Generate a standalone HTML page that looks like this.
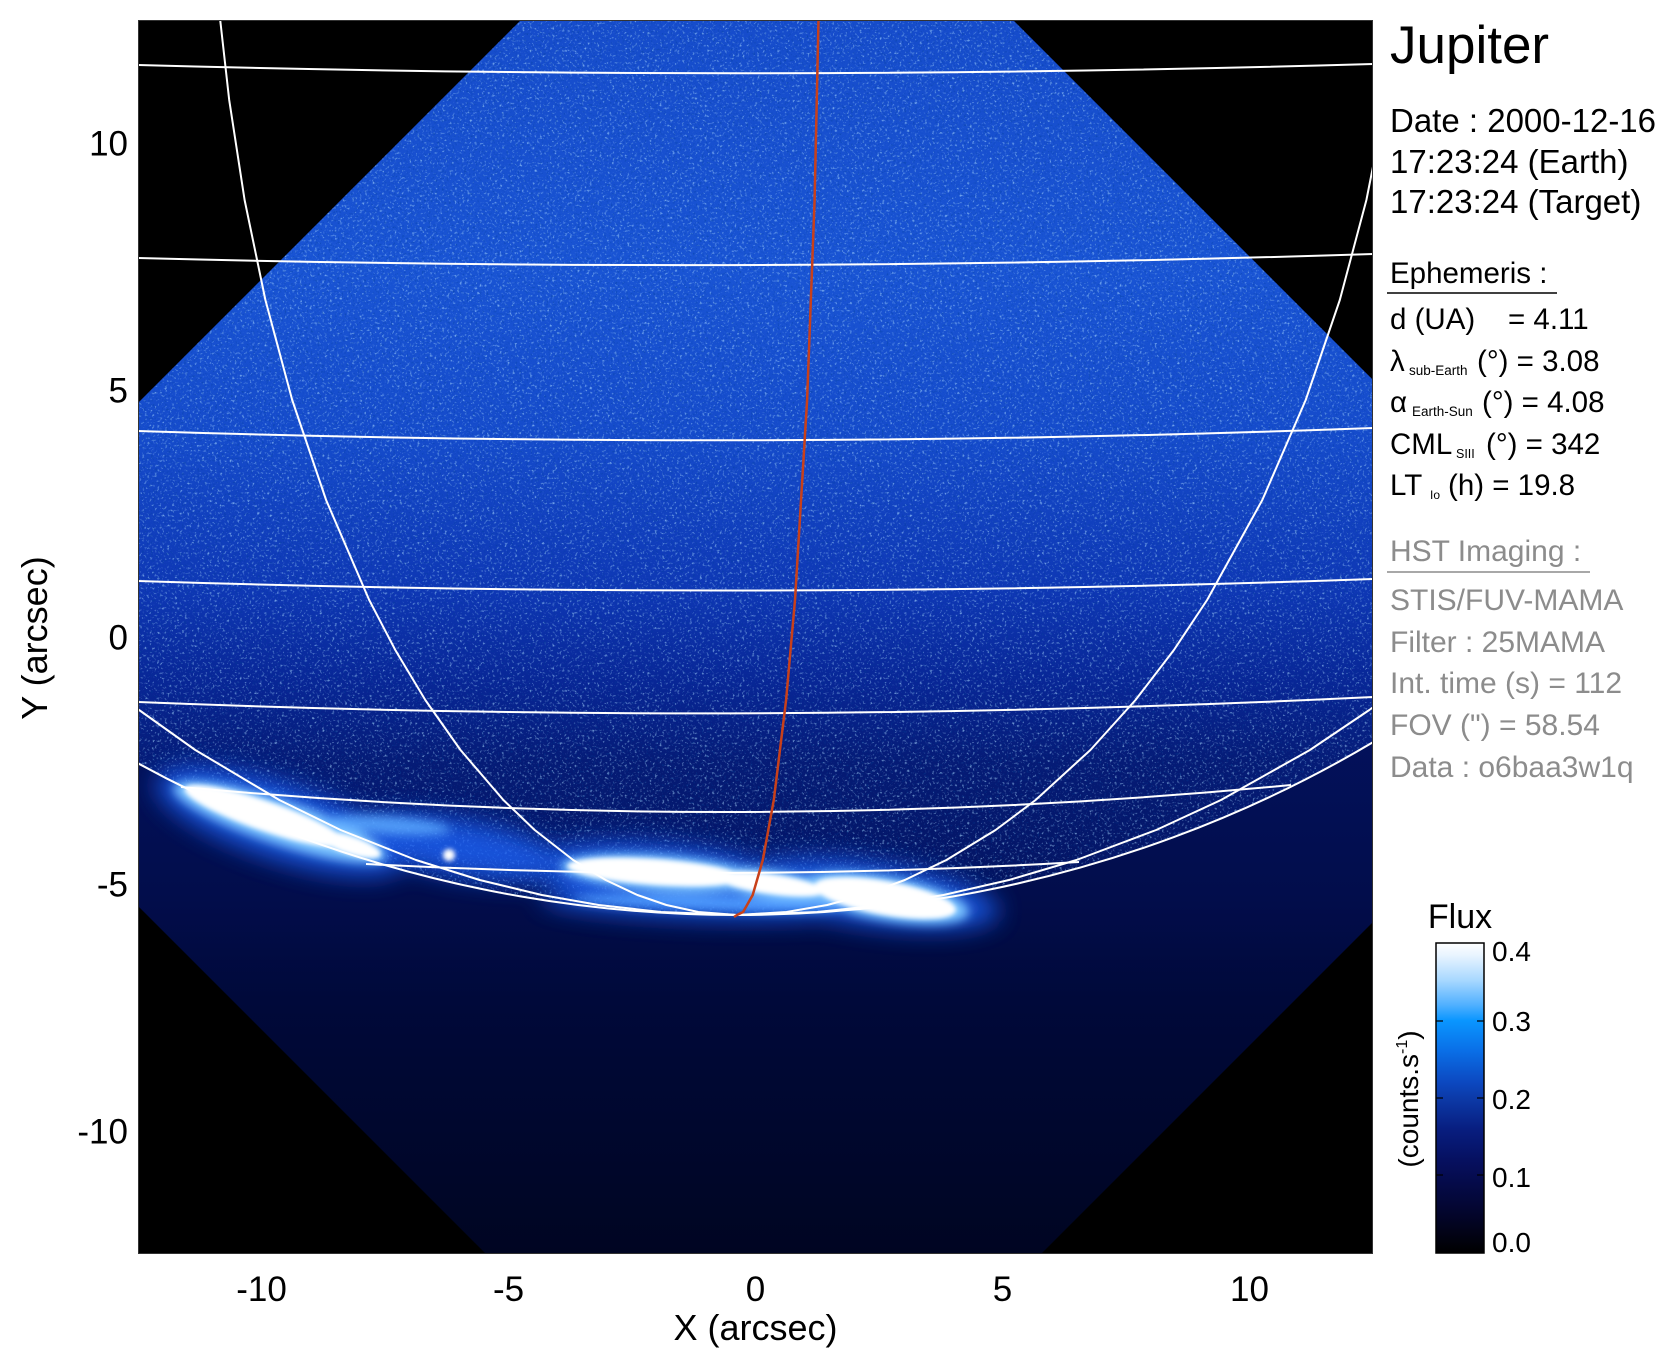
<!DOCTYPE html>
<html>
<head>
<meta charset="utf-8">
<style>
html,body{margin:0;padding:0;background:#fff;}
svg{display:block;}
text{font-family:"Liberation Sans",Arial,sans-serif;}
</style>
</head>
<body>
<svg width="1676" height="1367" viewBox="0 0 1676 1367" xmlns="http://www.w3.org/2000/svg">
<defs>
  <clipPath id="plot"><rect x="138" y="20" width="1235" height="1234"/></clipPath>
  <clipPath id="diam"><polygon points="767,-226 1644,651 763.5,1531.5 -113.5,654.5"/></clipPath>
  <clipPath id="disk"><ellipse cx="737" cy="-193" rx="1186" ry="1108"/></clipPath>
  <linearGradient id="gdisk" x1="0" y1="20" x2="0" y2="915" gradientUnits="userSpaceOnUse">
    <stop offset="0" stop-color="rgb(22,76,203)"/>
    <stop offset="0.28" stop-color="rgb(25,84,212)"/>
    <stop offset="0.47" stop-color="rgb(21,75,203)"/>
    <stop offset="0.64" stop-color="rgb(14,55,180)"/>
    <stop offset="0.74" stop-color="rgb(8,38,150)"/>
    <stop offset="0.83" stop-color="rgb(5,27,118)"/>
    <stop offset="0.93" stop-color="rgb(4,22,104)"/>
    <stop offset="1" stop-color="rgb(2,15,82)"/>
  </linearGradient>
  <linearGradient id="gsky" x1="0" y1="700" x2="0" y2="1254" gradientUnits="userSpaceOnUse">
    <stop offset="0" stop-color="rgb(3,18,95)"/>
    <stop offset="0.36" stop-color="rgb(2,13,75)"/>
    <stop offset="0.54" stop-color="rgb(0,9,58)"/>
    <stop offset="1" stop-color="rgb(0,5,34)"/>
  </linearGradient>
  <linearGradient id="gcb" x1="0" y1="943" x2="0" y2="1253" gradientUnits="userSpaceOnUse">
    <stop offset="0" stop-color="#ffffff"/>
    <stop offset="0.04" stop-color="#e8f4ff"/>
    <stop offset="0.12" stop-color="#a8d8ff"/>
    <stop offset="0.2" stop-color="#50b0ff"/>
    <stop offset="0.25" stop-color="#0a96ff"/>
    <stop offset="0.35" stop-color="#0a6ee6"/>
    <stop offset="0.45" stop-color="#0c48c0"/>
    <stop offset="0.5" stop-color="#0c3aa8"/>
    <stop offset="0.6" stop-color="#081e80"/>
    <stop offset="0.7" stop-color="#061060"/>
    <stop offset="0.78" stop-color="#050a48"/>
    <stop offset="0.88" stop-color="#03052a"/>
    <stop offset="1" stop-color="#000000"/>
  </linearGradient>
  <filter id="nzl" x="0" y="0" width="1" height="1">
    <feTurbulence type="fractalNoise" baseFrequency="0.4" numOctaves="2" seed="7"/>
    <feColorMatrix type="matrix" values="0 0 0 0 0.4  0 0 0 0 0.7  0 0 0 0 1  4 0 0 0 -2.3"/>
  </filter>
  <filter id="nzd" x="0" y="0" width="1" height="1">
    <feTurbulence type="fractalNoise" baseFrequency="0.45" numOctaves="2" seed="19"/>
    <feColorMatrix type="matrix" values="0 0 0 0 0  0 0 0 0 0.05  0 0 0 0 0.3  -4 0 0 0 1.7"/>
  </filter>
  <filter id="b12" x="-50%" y="-50%" width="200%" height="200%"><feGaussianBlur stdDeviation="12"/></filter>
  <filter id="b5" x="-50%" y="-50%" width="200%" height="200%"><feGaussianBlur stdDeviation="5"/></filter>
  <filter id="b2" x="-50%" y="-50%" width="200%" height="200%"><feGaussianBlur stdDeviation="2.5"/></filter>
</defs>

<rect x="0" y="0" width="1676" height="1367" fill="#ffffff"/>

<!-- Image area -->
<g clip-path="url(#plot)">
  <rect x="138" y="20" width="1235" height="1234" fill="#000"/>
  <g clip-path="url(#diam)">
    <rect x="138" y="20" width="1235" height="1234" fill="url(#gsky)"/>
    <ellipse cx="737" cy="-193" rx="1186" ry="1108" fill="url(#gdisk)"/>
    <g clip-path="url(#disk)">
      <rect x="138" y="20" width="1235" height="900" filter="url(#nzl)" opacity="0.6"/>
      <rect x="138" y="20" width="1235" height="900" filter="url(#nzd)" opacity="0.4"/>
    </g>
    <!-- aurora glow -->
    <g fill="#1e62f5" opacity="0.8" filter="url(#b12)">
      <ellipse cx="280" cy="822" rx="130" ry="38" transform="rotate(18.3 280 822)"/>
      <ellipse cx="460" cy="848" rx="110" ry="28" transform="rotate(10 460 848)"/>
      <ellipse cx="660" cy="874" rx="130" ry="30" transform="rotate(5 660 874)"/>
      <ellipse cx="870" cy="894" rx="130" ry="32" transform="rotate(8 870 894)"/>
      <ellipse cx="700" cy="903" rx="160" ry="16" transform="rotate(2 700 903)"/>
    </g>
    <g filter="url(#b5)">
      <ellipse cx="280" cy="822" rx="112" ry="22" fill="#7cc4ff" transform="rotate(18.3 280 822)"/>
      <ellipse cx="386" cy="825" rx="65" ry="9" fill="#5aa8ff" opacity="0.85" transform="rotate(4 386 825)"/>
      <ellipse cx="660" cy="873" rx="100" ry="18" fill="#7cc4ff" transform="rotate(4 660 873)"/>
      <ellipse cx="770" cy="884" rx="70" ry="14" fill="#7cc4ff" transform="rotate(8 770 884)"/>
      <ellipse cx="885" cy="898" rx="85" ry="22" fill="#7cc4ff" transform="rotate(10 885 898)"/>
      <ellipse cx="713" cy="903" rx="140" ry="7" fill="#4f9cff" transform="rotate(2 713 903)"/>
    </g>
    <g fill="#ffffff" filter="url(#b2)">
      <ellipse cx="265" cy="816" rx="85" ry="15" transform="rotate(19 265 816)"/>
      <ellipse cx="350" cy="845" rx="32" ry="9" transform="rotate(18 350 845)"/>
      <circle cx="449" cy="855" r="6"/>
      <ellipse cx="655" cy="872" rx="88" ry="13" transform="rotate(4 655 872)"/>
      <ellipse cx="770" cy="884" rx="55" ry="10" transform="rotate(8 770 884)"/>
      <ellipse cx="885" cy="898" rx="72" ry="17" transform="rotate(10 885 898)"/>
    </g>
  </g>

  <!-- grid lines -->
  <g fill="none" stroke="#ffffff" stroke-width="2">
    <path d="M138 65 Q755 82 1373 64"/>
    <path d="M138 258 Q755 274 1373 254"/>
    <path d="M138 431 Q755 451 1373 428"/>
    <path d="M138 581 Q755 601 1373 579"/>
    <path d="M138 702 Q755 727 1373 697"/>
    <path d="M181 787 Q736 838 1291 785"/>
    <path d="M366 864 Q722 883 1079 862"/>
    <ellipse cx="737" cy="-193" rx="1186" ry="1108"/>
    <polyline points="220.2,20 229.2,100 244.6,200 265.4,300 292.2,400 326.1,500 369.2,600 395.3,650 425.3,700 460.5,750 503.4,800 534.7,830 573.2,860 605.7,880 637.4,895 666.4,905 698.3,912 737,915" stroke-linejoin="round"/>
    <polyline points="1397.6,20 1386.2,100 1366.4,200 1339.8,300 1305.7,400 1262.3,500 1207.1,600 1173.9,650 1135.5,700 1090.4,750 1035.6,800 995.6,830 946.4,860 904.8,880 864.3,895 827.2,905 786.5,912 737,915" stroke-linejoin="round"/>
    <polyline points="126.2,700 139.1,710 195.3,750 279.3,800 340.6,830 416,860 479.7,880 541.9,895 598.7,905 661.1,912 737,915" stroke-linejoin="round"/>
    <polyline points="1382.9,700 1369.3,710 1309.9,750 1221,800 1156.2,830 1076.5,860 1009,880 943.4,895 883.3,905 817.2,912 737,915" stroke-linejoin="round"/>
  </g>
  <polyline points="818.5,20 814.6,200 807.1,400 795,600 786.1,700 773.8,800 762.8,860 752.7,895 743.1,912 737,915 734,917" fill="none" stroke="#c8401a" stroke-width="2.5" stroke-linejoin="round"/>
  <rect x="138.5" y="20.5" width="1234" height="1233" fill="none" stroke="#333" stroke-width="1"/>
</g>

<!-- Axis labels -->
<g font-size="35" fill="#000">
  <text x="128" y="155.5" text-anchor="end">10</text>
  <text x="128" y="402.5" text-anchor="end">5</text>
  <text x="128" y="649.5" text-anchor="end">0</text>
  <text x="128" y="896.5" text-anchor="end">-5</text>
  <text x="128" y="1143.5" text-anchor="end">-10</text>
  <text x="261.5" y="1301" text-anchor="middle">-10</text>
  <text x="508.5" y="1301" text-anchor="middle">-5</text>
  <text x="755.5" y="1301" text-anchor="middle">0</text>
  <text x="1002.5" y="1301" text-anchor="middle">5</text>
  <text x="1249.5" y="1301" text-anchor="middle">10</text>
</g>
<text x="755.5" y="1340" font-size="36" text-anchor="middle">X (arcsec)</text>
<text x="0" y="0" font-size="36" text-anchor="middle" transform="translate(47 638) rotate(-90)">Y (arcsec)</text>

<!-- Right panel text -->
<text x="1390" y="63" font-size="53">Jupiter</text>
<g font-size="33">
  <text x="1390" y="132">Date : 2000-12-16</text>
  <text x="1390" y="173">17:23:24 (Earth)</text>
  <text x="1390" y="213">17:23:24 (Target)</text>
</g>
<g font-size="29.5" fill="#000">
  <text x="1390" y="283">Ephemeris :</text>
  <text x="1390" y="329">d (UA)</text>
  <text x="1508" y="329">= 4.11</text>
  <text x="1390" y="371">λ</text>
  <text x="1477" y="371">(°) = 3.08</text>
  <text x="1390" y="412">α</text>
  <text x="1482" y="412">(°) = 4.08</text>
  <text x="1390" y="454">CML</text>
  <text x="1486" y="454">(°) = 342</text>
  <text x="1390" y="495">LT</text>
  <text x="1448" y="495">(h) = 19.8</text>
</g>
<g font-size="13.5" fill="#000">
  <text x="1409" y="375">sub-Earth</text>
  <text x="1412" y="416">Earth-Sun</text>
  <text x="1456" y="458" font-size="12.5">SIII</text>
  <text x="1430" y="499" font-size="12">Io</text>
</g>
<line x1="1387" y1="293" x2="1557" y2="293" stroke="#000" stroke-width="1.5"/>

<g font-size="30" fill="#8c8c8c">
  <text x="1390" y="561">HST Imaging :</text>
  <text x="1390" y="610">STIS/FUV-MAMA</text>
  <text x="1390" y="652">Filter : 25MAMA</text>
  <text x="1390" y="693">Int. time (s) = 112</text>
  <text x="1390" y="735">FOV (") = 58.54</text>
  <text x="1390" y="777">Data : o6baa3w1q</text>
</g>
<line x1="1387" y1="572" x2="1590" y2="572" stroke="#8c8c8c" stroke-width="1.5"/>

<!-- Colorbar -->
<text x="1460" y="928" font-size="34" text-anchor="middle">Flux</text>
<rect x="1436" y="943" width="48" height="310" fill="url(#gcb)" stroke="#000" stroke-width="1.5"/>
<g stroke="#000" stroke-width="1.2">
  <line x1="1436" y1="1021" x2="1443" y2="1021"/><line x1="1484" y1="1021" x2="1477" y2="1021"/>
  <line x1="1436" y1="1098" x2="1443" y2="1098"/><line x1="1484" y1="1098" x2="1477" y2="1098"/>
  <line x1="1436" y1="1175" x2="1443" y2="1175"/><line x1="1484" y1="1175" x2="1477" y2="1175"/>
</g>
<g font-size="28" fill="#000">
  <text x="1492" y="961">0.4</text>
  <text x="1492" y="1031">0.3</text>
  <text x="1492" y="1109">0.2</text>
  <text x="1492" y="1187">0.1</text>
  <text x="1492" y="1252">0.0</text>
</g>
<text x="0" y="0" font-size="28" text-anchor="middle" transform="translate(1418 1099) rotate(-90)">(counts.s<tspan font-size="16" dy="-11">-1</tspan><tspan dy="11">)</tspan></text>
</svg>
</body>
</html>
